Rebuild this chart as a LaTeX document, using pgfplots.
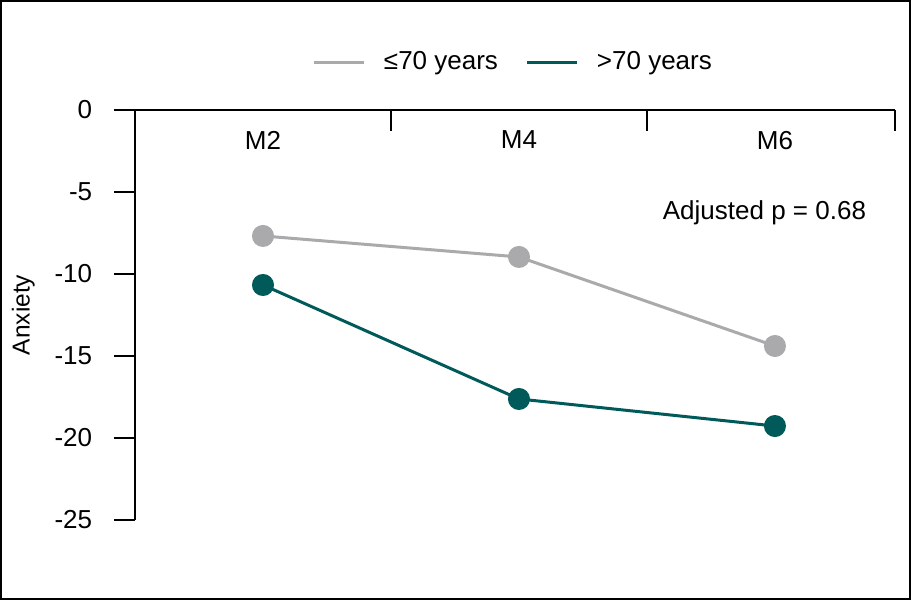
\documentclass[border=0pt]{standalone}
\usepackage{pgfplots}
\pgfplotsset{compat=1.18}
\usepackage{fontspec}
\setmainfont{Liberation Sans}
\definecolor{cgray}{RGB}{170,170,172}
\definecolor{cteal}{RGB}{0,90,90}
\begin{document}
\fontsize{26}{31}\selectfont
\begin{tikzpicture}
\useasboundingbox (0pt,0pt) rectangle (911pt,-600pt);
\draw[line width=2pt] (1pt,-1pt) rectangle (910pt,-599pt);
\begin{axis}[
  at={(135pt,-520pt)}, anchor=south west,
  scale only axis, width=760pt, height=410pt,
  xmin=0.5, xmax=3.469, ymin=-25, ymax=0,
  axis x line*=top, axis y line*=left,
  axis line style={line width=1.5pt, -},
  xtick={1.5,2.5,3.469}, xticklabels={},
  extra x ticks={1,2,3},
  extra x tick labels={M2,M4,M6},
  extra x tick style={major tick length=0pt},
  xticklabel style={anchor=north, yshift=-12pt},
  xtick align=inside,
  ytick={-25,-20,-15,-10,-5,0},
  yticklabels={-25,-20,-15,-10,-5,0},
  ytick align=outside,
  major tick length=21pt,
  tick style={line width=1.5pt, black},
  yticklabel style={xshift=-13pt},
  ylabel={\fontsize{24.5}{29}\selectfont Anxiety},
  ylabel style={at={(axis description cs:-0.147,0.5)}, anchor=center, rotate=0},
  clip=false,
  legend columns=2,
  legend style={at={(rel axis cs:0.23,1.117)}, anchor=west, draw=none, fill=none,
    /tikz/every odd column/.append style={column sep=16pt},
    /tikz/every even column/.append style={column sep=26pt}},
  legend image code/.code={\draw[#1] (0pt,0pt) -- (50pt,0pt);},
]
\addplot[cgray, line width=3pt, mark=*, mark size=9.5pt, mark options={fill=cgray, draw=cgray}]
  coordinates {(1,-7.68) (2,-8.96) (3,-14.39)};
\addlegendentry{≤70 years}
\addplot[cteal, line width=3pt, mark=*, mark size=9.5pt, mark options={fill=cteal, draw=cteal}]
  coordinates {(1,-10.67) (2,-17.62) (3,-19.27)};
\addlegendentry{>70 years}
\node[anchor=base] at (axis cs:2.959,-6.65) {Adjusted p = 0.68};
\end{axis}
\end{tikzpicture}
\end{document}
